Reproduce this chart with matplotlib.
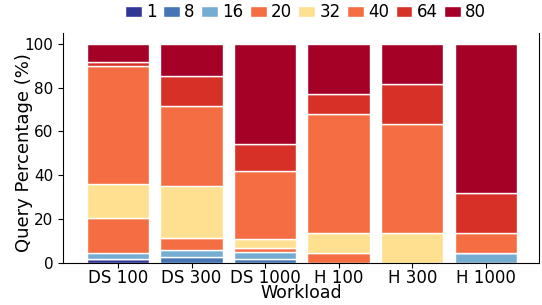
import matplotlib.pyplot as plt
import numpy as np

# Workloads and query percentage per bucket
workloads = ['DS 100', 'DS 300', 'DS 1000', 'H 100', 'H 300', 'H 1000']
buckets = ['1', '8', '16', '20', '32', '40', '64', '80']
colors = ['#313695', '#4575b4', '#74add1', '#f46d43', '#fee090', '#f46d43', '#d73027', '#a50026']

pct_1 = [1.8, 0.0, 0.0, 0.0, 0.0, 0.0]
pct_8 = [0.0, 2.9, 2.0, 0.0, 0.0, 0.0]
pct_16 = [2.9, 3.0, 2.85, 0.0, 0.0, 4.55]
pct_20 = [15.7, 5.4, 2.1, 4.55, 0.0, 0.0]
pct_32 = [15.5, 23.9, 4.1, 9.1, 13.6, 0.0]
pct_40 = [54.1, 36.6, 30.8, 54.5, 50.0, 9.1]
pct_64 = [1.8, 13.4, 12.4, 9.1, 18.2, 18.2]
pct_80 = [8.2, 14.8, 45.75, 22.75, 18.2, 68.15]
series = [pct_1, pct_8, pct_16, pct_20, pct_32, pct_40, pct_64, pct_80]

fig = plt.figure(figsize=(5.42, 3.05), dpi=100)
ax = fig.add_axes([0.116, 0.138, 0.878, 0.754])

x = np.arange(len(workloads))
bottom = np.zeros(len(workloads))
for name, vals, c in zip(buckets, series, colors):
    ax.bar(x, vals, 0.85, bottom=bottom, color=c, edgecolor='white', linewidth=1, label=name)
    bottom += np.array(vals)

ax.set_xlim(-0.75, 5.72)
ax.set_ylim(0, 105)
ax.set_yticks([0, 20, 40, 60, 80, 100])
ax.set_xticks(x)
ax.set_xticklabels(workloads, fontsize=12)
ax.tick_params(axis='y', labelsize=11)
ax.tick_params(axis='x', pad=1)
ax.set_xlabel('Workload', fontsize=12.5, labelpad=-2)
ax.set_ylabel('Query Percentage (%)', fontsize=13, labelpad=-6, y=0.48)
ax.spines['top'].set_visible(False)

ax.legend(loc='center', bbox_to_anchor=(0.51, 1.09), ncol=8, frameon=False,
          fontsize=12, handlelength=1.0, handleheight=0.65, handletextpad=0.25,
          columnspacing=0.4, borderaxespad=0)

plt.savefig('out.png', dpi=100)
